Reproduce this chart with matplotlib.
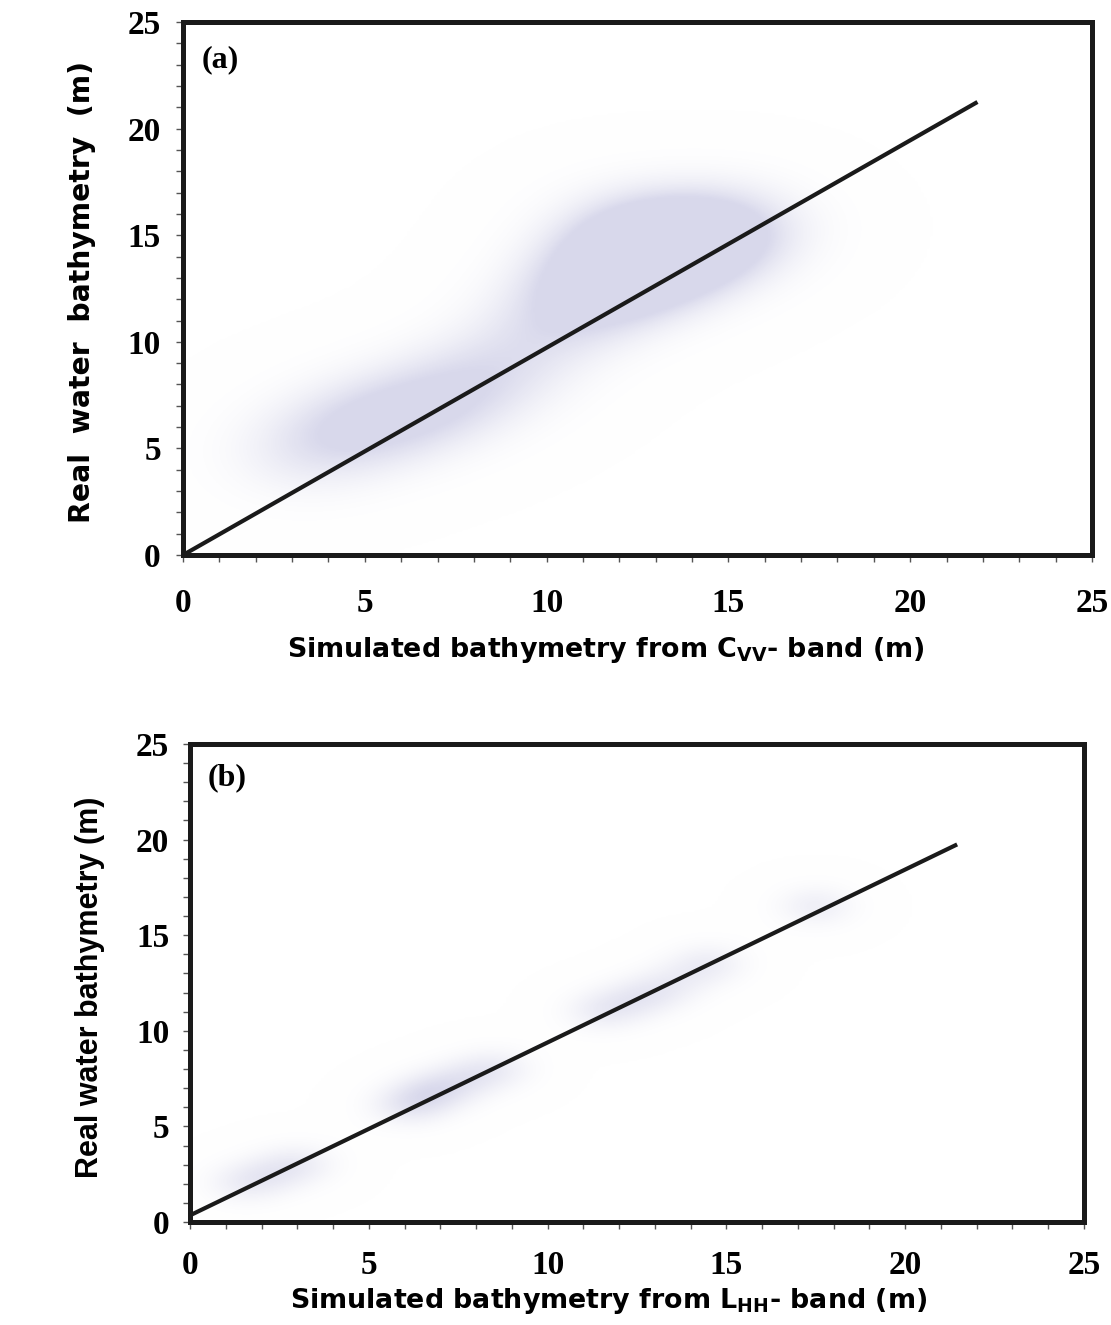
import numpy as np
import matplotlib
matplotlib.use('Agg')
import matplotlib.pyplot as plt
from matplotlib.colors import LinearSegmentedColormap
from matplotlib.ticker import MultipleLocator

plt.rcParams['mathtext.fontset'] = 'custom'
plt.rcParams['mathtext.rm'] = 'DejaVu Sans:bold'
plt.rcParams['mathtext.it'] = 'DejaVu Sans:bold'
plt.rcParams['mathtext.bf'] = 'DejaVu Sans:bold'
plt.rcParams['mathtext.default'] = 'rm'

# regression lines (simulated -> real)
line_a_x = [0.0, 21.8]
line_a_y = [0.0, 21.2]
line_b_x = [0.0, 21.4]
line_b_y = [0.35, 19.7]

# centres of the faint point cloud around each line
cloud_a_x = [3.0, 4.5, 6.0, 7.5, 9.0, 10.5, 11.5, 12.5, 13.5, 14.5, 15.5, 12.0]
cloud_a_y = [4.5, 6.0, 6.5, 7.5, 9.0, 11.5, 12.5, 13.5, 14.0, 15.0, 15.5, 15.5]
cloud_b_x = [1.5, 3.0, 6.0, 7.0, 8.5, 11.5, 13.0, 14.5, 17.5]
cloud_b_y = [2.0, 3.0, 6.0, 7.0, 8.0, 11.0, 12.0, 13.5, 16.5]

xticks = [0, 5, 10, 15, 20, 25]
yticks = [0, 5, 10, 15, 20, 25]

haze = LinearSegmentedColormap.from_list(
    'haze', [(1, 1, 1, 0), (0.5, 0.5, 0.75, 0.3)])


def draw_cloud(ax, cx, cy, spread, norm):
    gx, gy = np.meshgrid(np.linspace(0, 25, 300), np.linspace(0, 25, 300))
    dens = np.zeros_like(gx)
    for x0, y0 in zip(cx, cy):
        dens += np.exp(-((gx - x0) ** 2 + (gy - y0) ** 2) / (2 * spread ** 2))
    dens = np.clip(dens / norm, 0, 1)
    ax.imshow(dens, extent=(0, 25, 0, 25), origin='lower', cmap=haze,
              vmin=0, vmax=1, aspect='auto', interpolation='bilinear', zorder=1)


def style_axes(ax, xpad, ypad):
    ax.set_xlim(0, 25)
    ax.set_ylim(0, 25)
    ax.set_xticks(xticks)
    ax.set_yticks(yticks)
    ax.xaxis.set_minor_locator(MultipleLocator(1))
    ax.yaxis.set_minor_locator(MultipleLocator(1))
    for s in ax.spines.values():
        s.set_linewidth(3.6)
        s.set_color('#1a1a1a')
    ax.tick_params(which='both', direction='out', length=5, width=1,
                   color='#555555', top=False, right=False)
    ax.tick_params(axis='x', which='major', pad=xpad)
    ax.tick_params(axis='y', which='major', pad=ypad)
    for lab in ax.get_xticklabels() + ax.get_yticklabels():
        lab.set_fontfamily('Liberation Serif')
        lab.set_fontweight('bold')
        lab.set_fontsize(24)


fig = plt.figure(figsize=(11.11, 13.25), dpi=100)

# panel (a)
ax1 = fig.add_axes([0.1647, 0.5811, 0.8182, 0.4023])
draw_cloud(ax1, cloud_a_x, cloud_a_y, 1.9, 2.2)
ax1.plot(line_a_x, line_a_y, color='#1a1a1a', lw=3, zorder=3)
style_axes(ax1, 19, 11)
ax1.text(0.02, 0.93, '(a)', transform=ax1.transAxes, fontfamily='Liberation Serif',
         fontweight='bold', fontsize=23, va='center')
ax1.set_xlabel('Simulated bathymetry from C$_{VV}$- band (m)', fontfamily='DejaVu Sans',
               fontweight='bold', fontsize=19.4, va='center')
ax1.xaxis.set_label_coords(0.465, -0.178)
ax1.set_ylabel('Real  water  bathymetry  (m)', fontfamily='DejaVu Sans',
               fontweight='bold', fontsize=20.3, va='center')
ax1.yaxis.set_label_coords(-0.111, 0.493)

# panel (b)
ax2 = fig.add_axes([0.1710, 0.0777, 0.8047, 0.3608])
draw_cloud(ax2, cloud_b_x, cloud_b_y, 1.0, 1.6)
ax2.plot(line_b_x, line_b_y, color='#1a1a1a', lw=3, zorder=3)
style_axes(ax2, 15, 10)
ax2.text(0.02, 0.93, '(b)', transform=ax2.transAxes, fontfamily='Liberation Serif',
         fontweight='bold', fontsize=23, va='center')
ax2.set_xlabel('Simulated bathymetry from L$_{HH}$- band (m)', fontfamily='DejaVu Sans',
               fontweight='bold', fontsize=19.4, va='center')
ax2.xaxis.set_label_coords(0.468, -0.166)
ax2.set_ylabel('Real water bathymetry (m)', fontfamily='Liberation Sans',
               fontweight='bold', fontsize=22, va='center')
ax2.yaxis.set_label_coords(-0.112, 0.49)

fig.savefig('out.png', dpi=100)
